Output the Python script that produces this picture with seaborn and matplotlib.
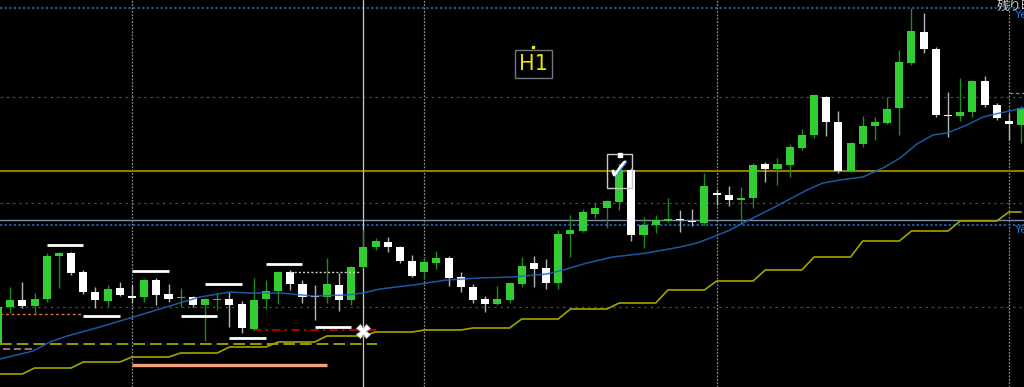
import numpy as np
import pandas as pd
import matplotlib
matplotlib.use("Agg")
import matplotlib.pyplot as plt
import seaborn as sns
from matplotlib.patches import Rectangle

# ---------------- data (H1 candles, price units) ----------------
opens = [148.44,148.80,148.87,148.81,148.88,149.31,149.34,149.15,148.95,148.86,
         148.99,148.91,148.90,149.07,148.93,148.89,148.90,148.82,148.87,148.88,
         148.83,148.58,148.88,148.96,149.15,149.03,148.91,148.90,149.02,148.87,
         149.20,149.40,149.45,149.40,149.26,149.15,149.24,149.29,149.10,149.00,
         148.88,148.83,148.87,149.03,149.24,149.19,149.04,149.53,149.56,149.73,
         149.79,149.85,150.17,149.52,149.62,149.66,149.68,149.66,149.64,149.94,
         149.92,149.87,149.89,150.23,150.18,150.22,150.39,150.52,150.90,150.65,
         150.16,150.43,150.61,150.64,150.79,151.24,151.55,151.38,150.72,150.71,
         150.75,151.06,150.82,150.66,150.62]
highs = [148.82,149.00,149.05,148.94,149.34,149.35,149.35,149.17,149.00,149.02,
         149.05,149.02,149.08,149.09,149.03,148.99,148.91,148.89,148.94,148.95,
         148.86,149.09,149.07,149.16,149.17,149.07,149.02,149.29,149.14,149.21,
         149.57,149.49,149.50,149.41,149.32,149.30,149.36,149.31,149.15,149.03,
         148.91,149.01,149.05,149.30,149.31,149.28,149.57,149.72,149.78,149.84,
         149.87,150.24,150.19,149.70,149.72,149.89,149.77,149.78,150.14,149.98,
         150.01,150.00,150.24,150.25,150.29,150.43,150.58,150.93,150.91,150.76,
         150.45,150.71,150.70,150.90,151.37,151.79,151.74,151.40,150.95,151.09,
         151.07,151.11,150.84,150.74,150.81]
lows = [148.42,148.74,148.79,148.74,148.85,148.99,149.12,148.93,148.79,148.81,
        148.91,148.84,148.85,148.82,148.85,148.80,148.80,148.46,148.77,148.60,
        148.54,148.57,148.78,148.83,148.97,148.84,148.67,148.84,148.76,148.82,
        149.19,149.37,149.35,149.24,149.10,149.09,149.18,149.01,148.95,148.84,
        148.75,148.82,148.84,149.00,149.00,148.98,148.98,149.30,149.55,149.69,
        149.59,149.77,149.46,149.39,149.54,149.65,149.55,149.61,149.62,149.82,
        149.81,149.63,149.79,150.05,150.02,150.10,150.37,150.49,150.51,150.14,
        150.15,150.40,150.47,150.63,150.52,151.22,151.34,150.70,150.50,150.66,
        150.70,150.80,150.67,150.47,150.44]
closes = [148.80,148.87,148.81,148.88,149.31,149.34,149.14,148.95,148.87,148.98,
          148.92,148.89,149.07,148.92,148.88,148.90,148.82,148.88,148.88,148.82,
          148.59,148.87,148.96,149.15,149.03,148.90,148.90,149.03,148.87,149.20,
          149.40,149.46,149.40,149.26,149.11,149.25,149.29,149.09,149.00,148.87,
          148.83,148.88,149.04,149.21,149.18,149.04,149.53,149.57,149.75,149.79,
          149.86,150.17,149.52,149.62,149.67,149.68,149.67,149.65,150.01,149.92,
          149.87,149.89,150.22,150.18,150.23,150.40,150.52,150.92,150.65,150.16,
          150.44,150.61,150.65,150.78,151.25,151.56,151.38,150.72,150.71,150.75,
          151.06,150.82,150.69,150.63,150.79]

# moving average (read points: candle index, price)
ma_idx = [0.16,2.87,4.27,5.67,8.37,10.84,12.48,14.37,16.58,19.05,20.44,23.15,25.86,
          28.65,29.97,31.36,34.07,36.86,39.57,42.28,45.07,46.39,48.36,50.49,53.28,
          55.99,57.39,58.70,60.10,61.49,63.63,66.42,67.73,69.13,71.02,72.66,74.06,
          75.45,76.77,77.92,79.56,80.87,82.27,84.24]
ma_val = [148.28,148.36,148.45,148.51,148.60,148.69,148.75,148.82,148.90,148.95,148.94,
          148.94,148.91,148.92,148.94,148.98,149.02,149.07,149.09,149.10,149.13,149.17,
          149.24,149.30,149.34,149.40,149.44,149.50,149.57,149.66,149.79,149.97,150.04,
          150.07,150.10,150.19,150.29,150.43,150.52,150.54,150.62,150.70,150.74,150.79]

# higher-timeframe stepped line: one level per 4-candle block
step_levels = [148.13,148.19,148.25,148.30,148.34,148.40,148.45,148.51,148.55,148.57,
               148.59,148.68,148.78,148.84,148.97,149.06,149.17,149.30,149.46,149.56,
               149.66,149.75]

# white horizontal segments (start idx, end idx, level)
seg_start = [4, 7, 11, 15, 17, 19, 22, 26]
seg_end = [7, 10, 14, 18, 20, 22, 25, 29]
seg_level = [149.42, 148.71, 149.16, 148.71, 149.03, 148.49, 149.23, 148.60]

grid_levels = [150.90, 149.84, 148.80]
day_breaks = [11, 35, 59, 83]
cursor_idx = 30
yest_high = 151.79
yest_low = 149.62
olive_level = 150.16
steel_level = 149.67
dash_yellow_level = 148.43
salmon_level = 148.22
salmon_dot_level = 148.73
salmon_short_level = 148.38
red_level = 148.57
white_dot_level = 149.15
x_mark_price = 148.56

# ---------------- figure ----------------
sns.set_theme(style="dark", rc={"axes.facecolor": "black", "figure.facecolor": "black"})
fig = plt.figure(figsize=(10.24, 3.87), dpi=100)
ax = fig.add_axes([0, 0, 1, 1])
ax.set_facecolor("black")
for s in ax.spines.values():
    s.set_visible(False)
ax.set_xticks([]); ax.set_yticks([])
ax.grid(False)
ax.set_xlim(0.164, 84.24)
ax.set_ylim(148.00, 151.87)

n = len(opens)
idx = np.arange(n)
df = pd.DataFrame({"i": idx, "o": opens, "h": highs, "l": lows, "c": closes})
df["bull"] = df["c"] >= df["o"]

# grid
for g in grid_levels:
    ax.axhline(g, color="#4a4a4a", lw=0.9, ls=(0, (2, 3)), zorder=1)
for d in day_breaks:
    ax.axvline(d, color="#8c8c8c", lw=0.9, ls=(0, (1.5, 1.2)), zorder=1)
ax.axvline(cursor_idx, color="#c8c8c8", lw=0.9, zorder=2)

# horizontal levels
ax.axhline(yest_high, color="#2a6fc8", lw=1.1, ls=(0, (1.5, 1.5)), zorder=1)
ax.axhline(yest_low, color="#2a6fc8", lw=1.1, ls=(0, (1.5, 1.5)), zorder=1)
ax.axhline(olive_level, color="#8f7d00", lw=1.5, zorder=1)
ax.axhline(steel_level, color="#7a8fae", lw=1.0, zorder=1)
ax.plot([83, 84.3], [150.94, 150.94], color="#8c8c8c", lw=0.9, ls=(0, (3, 2)), zorder=1)

# other drawn lines
ax.plot([0.16, 31.1], [dash_yellow_level] * 2, color="#b5b500", lw=1.2, ls=(0, (7, 3)), zorder=2)
ax.plot([11.0, 27.0], [salmon_level] * 2, color="#f4a07c", lw=2.4, zorder=2, solid_capstyle="butt")
ax.plot([0.16, 6.9], [salmon_dot_level] * 2, color="#d8734f", lw=1.0, ls=(0, (2, 2)), zorder=2)
ax.plot([0.4, 2.9], [salmon_short_level] * 2, color="#a77a72", lw=1.3, ls=(0, (4, 2)), zorder=2)
ax.plot([20.9, 31.2], [red_level] * 2, color="#c80000", lw=1.2, ls=(0, (5, 2.5, 1.5, 2.5)), zorder=2)

# stepped line
step_df = pd.DataFrame({"i": idx, "v": [step_levels[(k + 1) // 4] for k in idx]})
sns.lineplot(data=step_df, x="i", y="v", ax=ax, color="#a3a300", lw=1.2,
             estimator=None, sort=False, zorder=2, legend=False)

# candles: wicks then bodies
wick_col = np.where(df["bull"], "#1f8a1f", "#b4b4b4")
ax.vlines(df["i"], df["l"], df["h"], colors=wick_col, lw=1.0, zorder=3)
body_bot = np.minimum(df["o"], df["c"])
body_h = np.maximum(np.abs(df["c"] - df["o"]), 0.014)
body_col = np.where(df["bull"], "#32cd32", "#ffffff")
ax.bar(df["i"], body_h, bottom=body_bot, width=0.66, color=body_col, lw=0, zorder=4)

# moving average
ma_df = pd.DataFrame({"i": ma_idx, "v": ma_val})
sns.lineplot(data=ma_df, x="i", y="v", ax=ax, color="#1f68c0", lw=1.1,
             estimator=None, sort=False, zorder=5, alpha=0.85, legend=False)

# white segments
for a, b, lv in zip(seg_start, seg_end, seg_level):
    ax.plot([a, b], [lv, lv], color="white", lw=2.0, zorder=6, solid_capstyle="butt")
ax.plot([24, 29.7], [white_dot_level] * 2, color="#d0d0d0", lw=1.0, ls=(0, (1.5, 1.5)), zorder=6)

# X marker
ax.plot([cursor_idx], [x_mark_price], marker="X", ms=10, mfc="white", mec="#bdbdbd",
        mew=0.6, zorder=7, ls="none")

# H1 label
ax.text(43.97, 151.23, "H1", color="#e6e600", fontsize=15, ha="center", va="center",
        family=["DejaVu Sans"], zorder=8,
        bbox=dict(boxstyle="square,pad=0.2", fc="none", ec="#6e7680", lw=1.0))
ax.plot([43.9], [151.40], marker="s", ms=2, color="#e6e600", zorder=8)

# check mark box
ax.add_patch(Rectangle((50.0, 149.99), 2.05, 0.34, fill=False, ec="#c8c8c8", lw=1.0, zorder=8))
ax.text(51.05, 150.15, "\u2713", color="#5a8fd0", fontsize=21, fontweight="bold",
        ha="center", va="center", family=["DejaVu Sans"], zorder=9)
ax.text(51.0, 150.16, "\u2713", color="white", fontsize=21, fontweight="bold",
        ha="center", va="center", family=["DejaVu Sans"], zorder=9)
ax.plot([51.03], [150.325], marker="s", ms=3.5, color="white", zorder=9)

# right-edge labels (cut off by the frame, as in the reference)
ax.text(82.02, 151.81, "残り時間", color="#d0d0d0", fontsize=9, ha="left", va="center",
        family=["Noto Sans CJK JP", "DejaVu Sans"], zorder=9)
ax.text(83.5, 151.72, "Yesterday High", color="#1e7be0", fontsize=8, ha="left", va="center", zorder=9)
ax.text(83.5, 149.57, "Yesterday Low", color="#1e7be0", fontsize=8, ha="left", va="center", zorder=9)

ax.set_xlabel(""); ax.set_ylabel("")
fig.savefig("out.png", dpi=100, facecolor="black")
